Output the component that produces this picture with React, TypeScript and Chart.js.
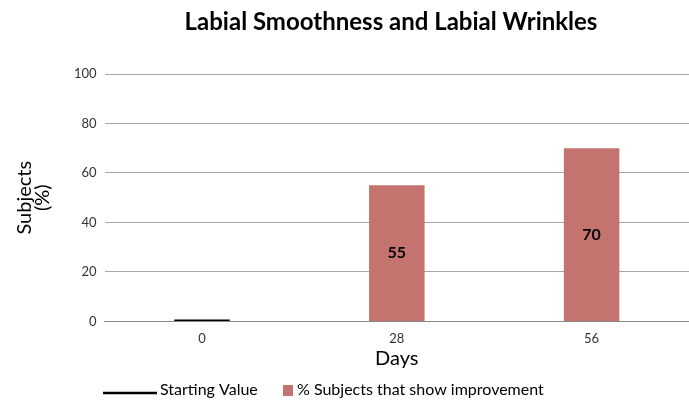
import React, { useEffect, useRef } from 'react';
import { Chart, registerables } from 'chart.js';

Chart.register(...registerables);

const chartTitle = 'Labial Smoothness and Labial Wrinkles';
const days = ['0', '28', '56'];
const startingLabel = 'Starting Value';
const startingValue = [0.8, null, null];
const improvementLabel = '% Subjects that show improvement';
const improvement = [null, 55, 70];
const yTitle = ['Subjects', '(%)'];
const xTitle = 'Days';

const FONT = 'Lato, "Open Sans", sans-serif';
const BAR = '#c5736e';

const decorPlugin = {
  id: 'decor',
  afterDatasetsDraw(chart: any) {
    const ctx = chart.ctx;
    const meta = chart.getDatasetMeta(1);
    ctx.save();
    ctx.fillStyle = '#000';
    ctx.font = `bold 16px ${FONT}`;
    ctx.textAlign = 'center';
    ctx.textBaseline = 'middle';
    meta.data.forEach((bar: any, i: number) => {
      const v = improvement[i];
      if (v == null) return;
      const p = bar.getProps(['x', 'y', 'base'], true);
      ctx.fillText(String(v), p.x, (p.y + p.base) / 2);
    });
    ctx.restore();
  },
  afterDraw(chart: any) {
    const ctx = chart.ctx;
    ctx.save();
    // title
    ctx.fillStyle = '#000';
    ctx.font = `bold 24px ${FONT}`;
    ctx.textAlign = 'center';
    ctx.textBaseline = 'middle';
    ctx.fillText(chartTitle, 391, 22);
    // legend
    const ly = 390;
    ctx.strokeStyle = '#000';
    ctx.lineWidth = 2.5;
    ctx.beginPath();
    ctx.moveTo(103, ly + 3);
    ctx.lineTo(157, ly + 3);
    ctx.stroke();
    ctx.font = `16px ${FONT}`;
    ctx.textAlign = 'left';
    ctx.fillStyle = '#000';
    ctx.fillText(startingLabel, 160, ly);
    ctx.fillStyle = BAR;
    ctx.fillRect(283, ly - 5, 10, 11);
    ctx.fillStyle = '#000';
    ctx.fillText(improvementLabel, 297, ly);
    ctx.restore();
  },
};

export default function App() {
  const ref = useRef<HTMLCanvasElement>(null);
  useEffect(() => {
    document.body.style.margin = '0';
    const chart = new Chart(ref.current!, {
      type: 'bar',
      data: {
        labels: days,
        datasets: [
          {
            label: startingLabel,
            data: startingValue,
            backgroundColor: '#000',
            categoryPercentage: 1,
            barPercentage: 0.285,
          },
          {
            label: improvementLabel,
            data: improvement,
            backgroundColor: BAR,
            categoryPercentage: 1,
            barPercentage: 0.285,
          },
        ],
      },
      options: {
        animation: false,
        responsive: false,
        maintainAspectRatio: false,
        layout: { padding: { top: 74, bottom: 29, left: 16, right: 0 } },
        plugins: {
          legend: { display: false },
          title: { display: false },
          tooltip: { enabled: false },
        },
        scales: {
          x: {
            stacked: true,
            grid: { display: false, drawTicks: false },
            border: { color: '#888', width: 1 },
            ticks: { color: '#333', font: { family: FONT, size: 13 }, padding: 10 },
            title: {
              display: true,
              text: xTitle,
              color: '#000',
              font: { family: FONT, size: 20 },
              padding: { top: -10, bottom: 0 },
            },
          },
          y: {
            stacked: true,
            min: 0,
            max: 100,
            border: { display: false },
            grid: { color: '#a6a6a6', drawTicks: false },
            ticks: { stepSize: 20, color: '#333', font: { family: FONT, size: 13 }, padding: 8 },
            title: {
              display: true,
              text: yTitle,
              color: '#000',
              font: { family: FONT, size: 20, lineHeight: 0.9 },
              padding: { top: 0, bottom: 14 },
            },
          },
        },
      },
      plugins: [decorPlugin],
    });
    return () => chart.destroy();
  }, []);
  return (
    <div style={{ width: 689, height: 400 }}>
      <canvas ref={ref} width={689} height={400} style={{ width: 689, height: 400 }} />
    </div>
  );
}
